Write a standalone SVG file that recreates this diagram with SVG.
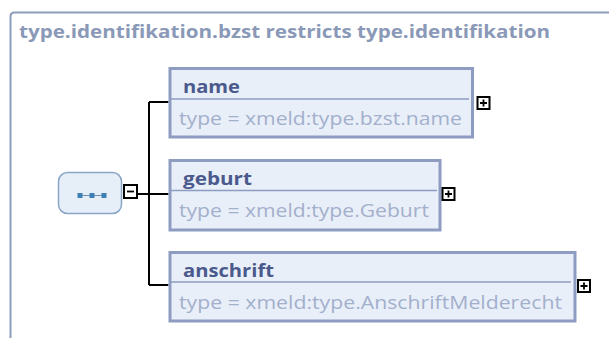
<svg xmlns="http://www.w3.org/2000/svg" width="609" height="338" viewBox="0 0 609 338">
<style>
.frame{fill:none;stroke:#8e9dbd;stroke-width:2}
.title{font-family:"Open Sans","Noto Sans",sans-serif;font-weight:bold;font-size:18px;fill:#8a99b8}
.box{fill:#e9eff9;stroke:#8d9cc0;stroke-width:3}
.div{stroke:#8d9cc0;stroke-width:1.5}
.nm{font-family:"Open Sans","Noto Sans",sans-serif;font-weight:bold;font-size:18px;fill:#4b5a8c}
.tp{font-family:"Open Sans","Noto Sans",sans-serif;font-size:18px;fill:#a3b0cc}
.btn{fill:#fff;stroke:#000;stroke-width:2}
.sign{stroke:#000;stroke-width:1.8}
.conn{fill:none;stroke:#000;stroke-width:2}
.seq{fill:#e6eef8;stroke:#8aa6c6;stroke-width:1.5}
.dot{fill:#3d7fb3}
</style>
<path class="frame" d="M10.5 338 V16.5 Q10.5 12.5 14.5 12.5 H609"/>
<text class="title" x="19" y="38" textLength="531" lengthAdjust="spacingAndGlyphs">type.identifikation.bzst restricts type.identifikation</text>
<g id="connectors">
<path class="conn" d="M137.5 194 H149 M149 102 V285 M149 102 H168.5 M149 194 H168.5 M149 285 H168.5"/>
</g>
<g id="sequence">
<rect class="seq" x="58.5" y="172.5" width="63" height="41" rx="9"/>
<path d="M80 195.5 H104" stroke="#6e8fb0" stroke-width="1"/>
<rect class="dot" x="77.5" y="193" width="5" height="5"/>
<rect class="dot" x="89.5" y="193" width="5" height="5"/>
<rect class="dot" x="101.5" y="193" width="5" height="5"/>
<rect class="btn" x="124" y="185" width="13" height="13"/>
<path class="sign" d="M127 191.5 H134"/>
</g>
<g id="name">
<rect class="box" x="170" y="68.5" width="302.5" height="68.5"/>
<path class="div" d="M171 99 H469"/>
<text class="nm" x="183" y="93" textLength="57" lengthAdjust="spacingAndGlyphs">name</text>
<text class="tp" x="179" y="125" textLength="283" lengthAdjust="spacingAndGlyphs">type = xmeld:type.bzst.name</text>
<rect class="btn" x="477.5" y="97" width="12" height="12"/>
<path class="sign" d="M480 103 H487 M483.5 99.5 V106.5"/>
</g>
<g id="geburt">
<rect class="box" x="170" y="160.5" width="270" height="69.5"/>
<path class="div" d="M171 190.5 H437"/>
<text class="nm" x="183" y="185" textLength="69" lengthAdjust="spacingAndGlyphs">geburt</text>
<text class="tp" x="179" y="217" textLength="250" lengthAdjust="spacingAndGlyphs">type = xmeld:type.Geburt</text>
<rect class="btn" x="442.5" y="188" width="12" height="12"/>
<path class="sign" d="M445 194 H452 M448.5 190.5 V197.5"/>
</g>
<g id="anschrift">
<rect class="box" x="170" y="252.5" width="405" height="68.5"/>
<path class="div" d="M171 282 H571"/>
<text class="nm" x="183" y="277" textLength="91" lengthAdjust="spacingAndGlyphs">anschrift</text>
<text class="tp" x="179" y="309" textLength="383" lengthAdjust="spacingAndGlyphs">type = xmeld:type.AnschriftMelderecht</text>
<rect class="btn" x="578" y="280" width="12" height="12"/>
<path class="sign" d="M580.5 286 H587.5 M584 282.5 V289.5"/>
</g>
</svg>
